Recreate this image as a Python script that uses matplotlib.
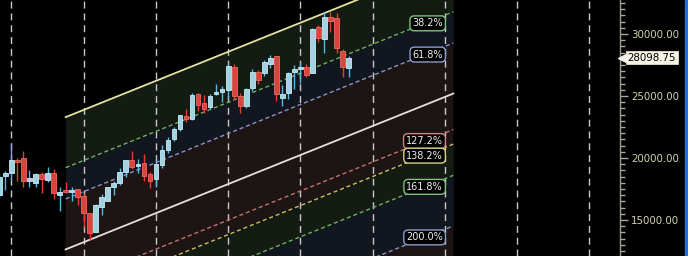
import matplotlib
matplotlib.use("Agg")
import matplotlib.pyplot as plt
import matplotlib.transforms as mtransforms
from matplotlib.ticker import MultipleLocator, FormatStrFormatter
from matplotlib.patches import Rectangle
import numpy as np

# ---- candle data (monthly OHLC) ----
opens = [17016, 18573, 18766, 19839, 19976, 18169, 17960, 18710, 18226, 18815,
         16992, 17419, 17282, 17476, 16936, 15540, 14057, 16073, 16557, 17637,
         18008, 18895, 19839, 19355, 19573, 18710, 18282, 19436, 20645, 21508,
         22339, 23387, 23145, 25161, 24460, 24137, 25186, 25347, 25484, 27363,
         25024, 24218, 25621, 26911, 26879, 27581, 28226, 24863, 25218, 26960,
         27177, 27339, 26879, 30540, 29597, 31347, 31266, 28629, 27234]
highs = [18710, 18976, 21234, 19976, 20565, 19032, 18815, 18871, 19250, 19089,
         17637, 18065, 17637, 17500, 17073, 15560, 16290, 17097, 17686, 18169,
         19169, 19860, 20565, 19895, 20323, 18895, 19782, 21048, 21669, 22476,
         23490, 23952, 25218, 25266, 25081, 25161, 25968, 25807, 27686, 27581,
         25218, 25669, 27177, 27097, 27903, 28307, 28250, 25887, 26960, 27500,
         27718, 27557, 30508, 30726, 31750, 31750, 31669, 28790, 28250]
lows = [16774, 17419, 18226, 18169, 17686, 17686, 17637, 17153, 18089, 16669,
        15750, 17153, 16557, 16210, 14460, 13387, 14032, 15403, 16532, 17016,
        17823, 18492, 19089, 18766, 18145, 17605, 17686, 19169, 20427, 21395,
        22178, 22927, 23065, 23790, 23605, 23928, 25081, 24540, 24815, 24734,
        23605, 24057, 25403, 25944, 26637, 27282, 24597, 24218, 24758, 25565,
        26024, 26508, 26831, 29379, 28492, 30186, 28492, 26508, 26557]
closes = [18492, 18815, 19839, 19653, 18169, 18363, 18710, 18282, 18815, 17153,
          17258, 17282, 17444, 16879, 15540, 13927, 16210, 16831, 17637, 18008,
          18895, 19839, 19250, 19516, 18548, 18169, 19516, 20645, 21452, 22339,
          23468, 23121, 25081, 24274, 23952, 25000, 25347, 25565, 27419, 25024,
          24218, 25565, 26911, 26290, 27718, 28040, 25137, 25161, 26831, 27177,
          27339, 26694, 30403, 29653, 31347, 31073, 28847, 27363, 28098.75]
last_price = 28098.75

# ---- Fibonacci channel ----
fib_levels = [0.0, 38.2, 61.8, 100.0, 127.2, 138.2, 161.8, 200.0]
fib_labels = ["", "38.2%", "61.8%", "", "127.2%", "138.2%", "161.8%", "200.0%"]
ch_start, ch_end = 11.0, 75.4        # bar index of channel start / end
ch_top_price = 23295.0               # 0% level at channel start
ch_width = 10669.0                   # price distance 0% -> 100%
ch_slope = 195.2                     # price change per bar
label_x = 74.19

# ---- axes ----
y_ticks = [15000, 20000, 25000, 30000]
y_min, y_max = 12097, 32742
x_min, x_max = 0.0997, 103.09
grid_x = [2 + 12 * k for k in range(9)]

fig = plt.figure(figsize=(6.88, 2.56), dpi=100, facecolor="black")
ax = fig.add_axes([0, 0, 620 / 688, 1])
ax.set_facecolor("black")
ax.set_xlim(x_min, x_max)
ax.set_ylim(y_min, y_max)

def level_price(lvl, x):
    return ch_top_price - lvl / 100.0 * ch_width + ch_slope * (np.asarray(x) - ch_start)

# shading bands
bands = [(0.0, 38.2, "#131b13"), (38.2, 61.8, "#12161f"), (61.8, 138.2, "#1c1514"),
         (138.2, 161.8, "#131b13"), (161.8, 200.0, "#12161f"), (200.0, 320.0, "#1c1514")]
xs = np.array([ch_start, ch_end])
for a, b, c in bands:
    ax.fill_between(xs, level_price(a, xs), level_price(b, xs), color=c, lw=0, zorder=0.5)

# vertical grid
for gx in grid_x:
    ax.axvline(gx, color="#c8c8c8", lw=1.0, ls=(0, (5, 3.5)), zorder=1)

line_styles = {
    0.0: ("#e6e2a0", "-", 1.3),
    38.2: ("#6cb062", (0, (3, 2)), 1.0),
    61.8: ("#8a92c8", (0, (3, 2)), 1.0),
    100.0: ("#e8e0d8", "-", 1.3),
    127.2: ("#c47070", (0, (3, 2)), 1.0),
    138.2: ("#c8c060", (0, (3, 2)), 1.0),
    161.8: ("#6cb062", (0, (3, 2)), 1.0),
    200.0: ("#8a92c8", (0, (3, 2)), 1.0),
}
label_edges = {38.2: "#7cc47c", 61.8: "#8c9cd0", 127.2: "#d08484",
               138.2: "#d8d084", 161.8: "#7cc47c", 200.0: "#8c9cd0"}
for lvl, lab in zip(fib_levels, fib_labels):
    col, ls, lw = line_styles[lvl]
    ax.plot(xs, level_price(lvl, xs), color=col, ls=ls, lw=lw, zorder=2)
    if lab:
        ax.annotate(lab, xy=(label_x, level_price(lvl, label_x)), xytext=(-2.2, -2.6),
                    textcoords="offset points", ha="right", va="top",
                    fontsize=7, color="#f0f0f0", zorder=5,
                    bbox=dict(boxstyle="round,pad=0.25,rounding_size=0.45",
                              fc="black", ec=label_edges[lvl], lw=1.0))

# candles
idx = np.arange(len(opens))
o = np.array(opens, float); c = np.array(closes, float)
h = np.array(highs, float); l = np.array(lows, float)
up = c >= o
wick_up, wick_dn = "#58b8e8", "#e2402f"
body_up, edge_up = "#a2d2e2", "#c4ecf6"
body_dn, edge_dn = "#d8453e", "#ee6a60"
ax.vlines(idx[up], l[up], h[up], color=wick_up, lw=1.0, zorder=3)
ax.vlines(idx[~up], l[~up], h[~up], color=wick_dn, lw=1.0, zorder=3)
bottoms = np.minimum(o, c)
heights = np.maximum(np.abs(c - o), 90)
ax.bar(idx[up], heights[up], bottom=bottoms[up], width=0.78,
       color=body_up, edgecolor=edge_up, lw=0.6, zorder=4)
ax.bar(idx[~up], heights[~up], bottom=bottoms[~up], width=0.78,
       color=body_dn, edgecolor=edge_dn, lw=0.6, zorder=4)

# y axis on the right
for s in ["left", "top", "bottom"]:
    ax.spines[s].set_visible(False)
ax.spines["right"].set_color("#9a9a90")
ax.spines["right"].set_linewidth(1.0)
ax.set_xticks([])
ax.yaxis.tick_right()
ax.set_yticks(y_ticks)
ax.yaxis.set_minor_locator(MultipleLocator(500))
ax.yaxis.set_major_formatter(FormatStrFormatter("%.2f"))
ax.tick_params(axis="y", which="major", length=6, width=1, color="#a8a89a",
               labelcolor="#d2d2ac", labelsize=7.4, pad=2)
ax.tick_params(axis="y", which="minor", length=3.5, width=1, color="#a8a89a")

# last price tag
trans = mtransforms.blended_transform_factory(ax.transAxes, ax.transData)
ax.annotate(f"{last_price:.2f}", xy=(1.0, last_price), xycoords=trans,
            xytext=(5.5, 0), textcoords="offset points", ha="left", va="center",
            fontsize=7.4, color="black", zorder=10, annotation_clip=False,
            bbox=dict(boxstyle="square,pad=0.15", fc="#f4f2e2", ec="#f4f2e2", lw=0.5))
ax.plot([1.004], [last_price], marker="<", ms=5.5, color="#f4f2e2",
        transform=trans, clip_on=False, zorder=10)

# blue edge strip
fig.patches.append(Rectangle((685 / 688, 0), 3 / 688, 1, transform=fig.transFigure,
                             color="#1c74d6", zorder=0))

fig.savefig("out.png", dpi=100, facecolor="black")
